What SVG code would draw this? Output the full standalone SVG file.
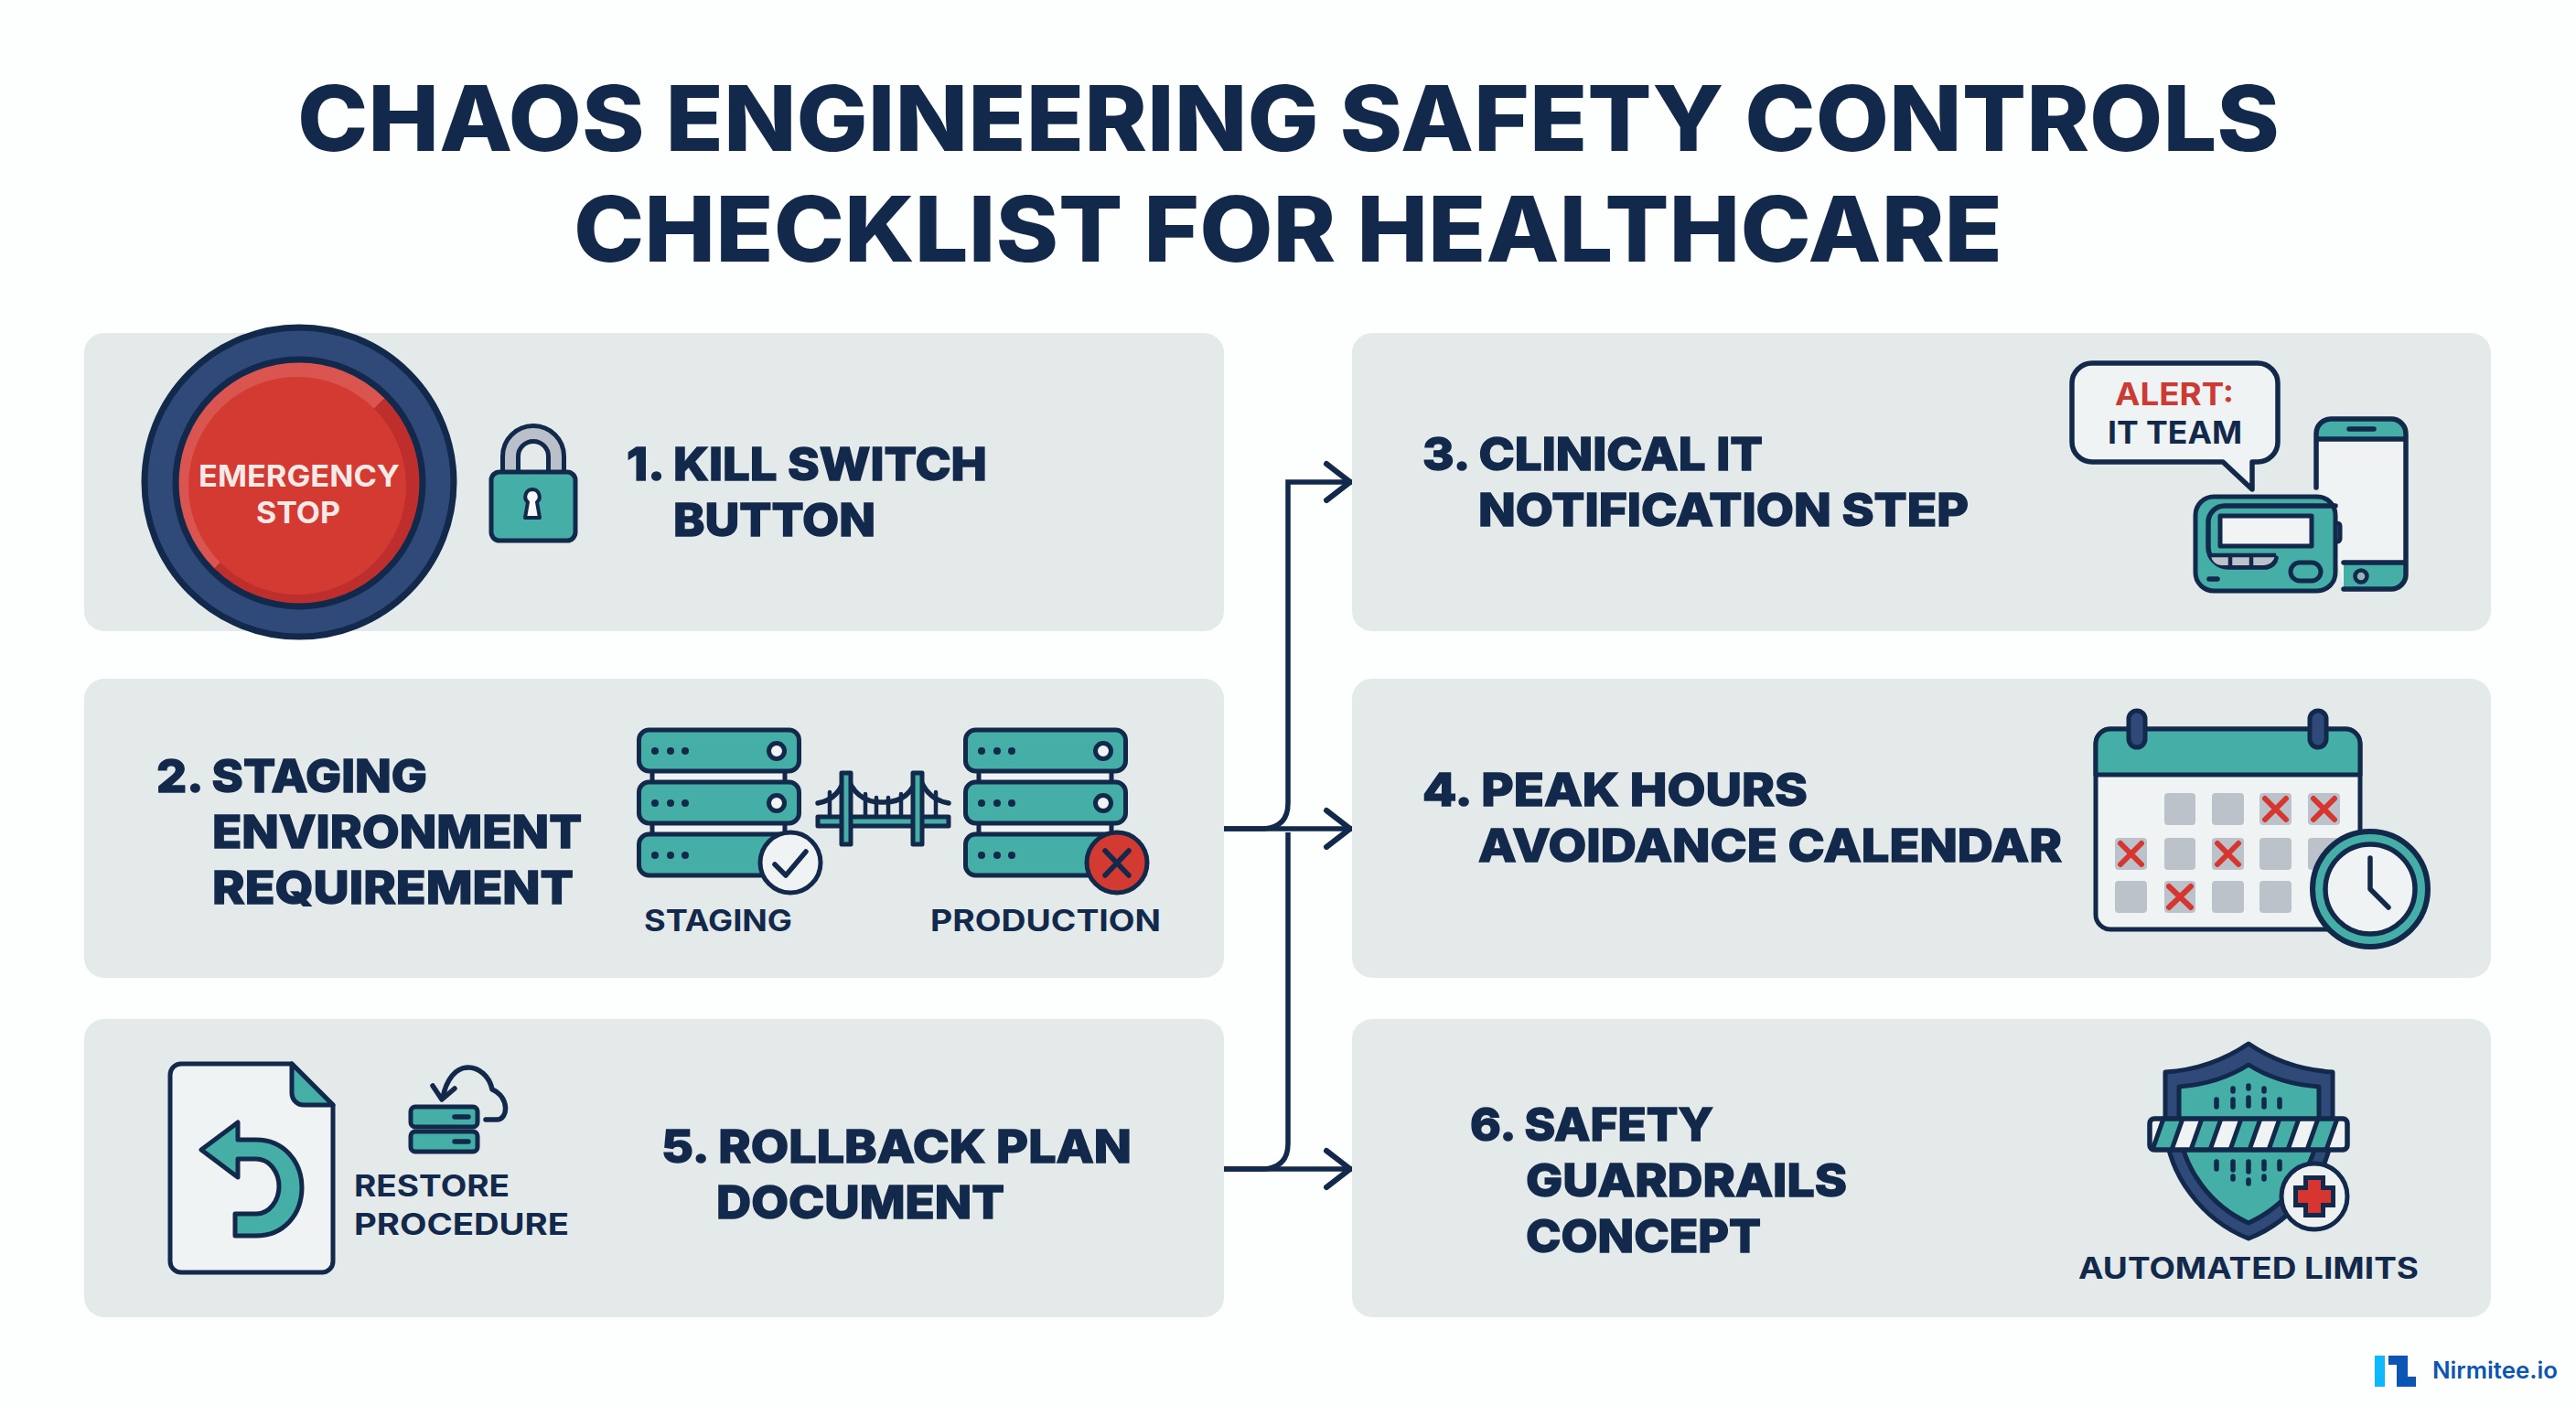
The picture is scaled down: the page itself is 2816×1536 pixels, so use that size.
<svg xmlns="http://www.w3.org/2000/svg" xmlns:xlink="http://www.w3.org/1999/xlink" width="2816" height="1536" viewBox="0 0 2816 1536">
<style>
text{font-family:"Inter","Liberation Sans",sans-serif;font-weight:700;fill:#12294b}
.t{font-size:99px;font-weight:800}
.h{font-size:50px;font-weight:800;stroke:#12294b;stroke-width:1.4}
.s{font-size:32px}
.w{font-size:32px;fill:#f8e9e7}
.m{font-size:34px}
.panel{fill:#e4e9ea}
.o{stroke:#12294b;stroke-width:5;stroke-linejoin:round;stroke-linecap:round}
.teal{fill:#45aea6}
.paper{fill:#f0f3f4}
.gray{fill:#bcc2ca}
.line{fill:none;stroke:#12294b;stroke-width:5.5;stroke-linecap:round;stroke-linejoin:round}
.conn{fill:none;stroke:#12294b;stroke-width:5.5}
.head{fill:none;stroke:#12294b;stroke-width:6;stroke-linecap:round;stroke-linejoin:miter}
.x{fill:none;stroke:#d6362f;stroke-width:6;stroke-linecap:round}
</style>
<defs>
<linearGradient id="rim" x1="0.15" y1="0.15" x2="0.85" y2="0.85"><stop offset="0.5" stop-color="#da5450"/><stop offset="0.5" stop-color="#bd2e2c"/></linearGradient>
<clipPath id="barclip"><rect x="2350" y="1223" width="216" height="34" rx="5"/></clipPath>
<g id="unit"><rect class="o teal" x="1.5" y="1" width="175" height="45" rx="11"/><circle cx="19" cy="24" r="4" fill="#12294b"/><circle cx="36" cy="24" r="4" fill="#12294b"/><circle cx="52" cy="24" r="4" fill="#12294b"/></g>
<g id="ring"><circle class="o paper" cx="152" cy="24" r="8.5"/></g>
<g id="stack">
<rect class="o paper" x="16" y="40" width="145" height="22"/>
<rect class="o paper" x="16" y="97" width="145" height="22"/>
<use href="#unit" y="0"/><use href="#ring" y="0"/>
<use href="#unit" y="57"/><use href="#ring" y="57"/>
<use href="#unit" y="114"/>
</g>
</defs>
<rect width="2816" height="1536" fill="#fdfefe"/>
<g id="title">
<text class="t" x="325" y="165" textLength="2167" lengthAdjust="spacingAndGlyphs">CHAOS ENGINEERING SAFETY CONTROLS</text>
<text class="t" x="627" y="286" textLength="1562" lengthAdjust="spacingAndGlyphs">CHECKLIST FOR HEALTHCARE</text>
</g>
<g id="connectors">
<path class="conn" d="M1338,906 H1478"/>
<path class="conn" d="M1338,1278 H1478"/>
<path class="conn" d="M1338,906 H1382 Q1408,904 1408,878 V527 H1478"/>
<path class="conn" d="M1338,1278 H1382 Q1408,1276 1408,1250 V910"/>
<path class="head" d="M1450,507 L1476,527 L1450,547"/>
<path class="head" d="M1450,886 L1476,906 L1450,926"/>
<path class="head" d="M1450,1258 L1476,1278 L1450,1298"/>
</g>
<g id="node1">
<rect class="panel" x="92" y="364" width="1246" height="326" rx="22"/>
<circle cx="327" cy="527" r="169" fill="#2f4a78" stroke="#12294b" stroke-width="7"/>
<circle cx="327" cy="528" r="135" fill="url(#rim)" stroke="#12294b" stroke-width="7"/>
<circle cx="325" cy="531" r="119" fill="#d33a32"/>
<text class="w" x="217" y="532" textLength="220" lengthAdjust="spacingAndGlyphs">EMERGENCY</text>
<text class="w" x="280" y="572" textLength="92" lengthAdjust="spacingAndGlyphs">STOP</text>
<path d="M558,518 V499 a25,25 0 0 1 50,0 V518" fill="none" stroke="#12294b" stroke-width="22"/>
<path d="M558,518 V499 a25,25 0 0 1 50,0 V518" fill="none" stroke="#b9c0c9" stroke-width="12"/>
<rect class="o teal" x="537" y="516" width="92" height="75" rx="9"/>
<path d="M582,535 a8,8 0 0 1 5,14 l3,17 h-16 l3,-17 a8,8 0 0 1 5,-14 z" fill="#f6f8f8" stroke="#12294b" stroke-width="4" stroke-linejoin="round"/>
<text class="h" x="685" y="525" textLength="394" lengthAdjust="spacingAndGlyphs">1. KILL SWITCH</text>
<text class="h" x="736" y="586" textLength="221" lengthAdjust="spacingAndGlyphs">BUTTON</text>
</g>
<g id="node2">
<rect class="panel" x="92" y="742" width="1246" height="327" rx="22"/>
<text class="h" x="171" y="866" textLength="296" lengthAdjust="spacingAndGlyphs">2. STAGING</text>
<text class="h" x="232" y="927" textLength="404" lengthAdjust="spacingAndGlyphs">ENVIRONMENT</text>
<text class="h" x="232" y="988" textLength="395" lengthAdjust="spacingAndGlyphs">REQUIREMENT</text>
<use href="#stack" x="697" y="797"/>
<circle class="o paper" cx="864" cy="943" r="33"/>
<path class="line" d="M847,945 L859,957 L881,931"/>
<use href="#stack" x="1054" y="797"/>
<circle class="o" fill="#d33a32" cx="1221" cy="943" r="33"/>
<path class="line" d="M1208,930 L1234,957 M1234,930 L1208,957"/>
<path class="line" style="stroke-width:4.5" d="M907,866 V892 M946,868 V892 M958,872 V892 M971,872 V892 M985,868 V892 M1023,866 V892"/>
<path class="line" d="M894,878 Q918,874 925,846 Q935,878 965,877 Q995,878 1004,846 Q1012,874 1037,878"/>
<rect class="o teal" x="894" y="893" width="143" height="10"/>
<rect class="o teal" x="920" y="845" width="10" height="78"/>
<rect class="o teal" x="998" y="845" width="10" height="78"/>
<text class="s" x="704" y="1018" textLength="162" lengthAdjust="spacingAndGlyphs">STAGING</text>
<text class="s" x="1017" y="1018" textLength="252" lengthAdjust="spacingAndGlyphs">PRODUCTION</text>
</g>
<g id="node3">
<rect class="panel" x="1478" y="364" width="1245" height="326" rx="22"/>
<text class="h" x="1555" y="514" textLength="372" lengthAdjust="spacingAndGlyphs">3. CLINICAL IT</text>
<text class="h" x="1616" y="575" textLength="536" lengthAdjust="spacingAndGlyphs">NOTIFICATION STEP</text>
<path class="o paper" style="stroke-width:5.5" d="M2287,397 H2468 a22,22 0 0 1 22,22 V483 a22,22 0 0 1 -22,22 H2462 V535 L2430,505 H2287 a22,22 0 0 1 -22,-22 V419 a22,22 0 0 1 22,-22 z"/>
<text class="m" x="2312" y="443" style="fill:#cc3a34" textLength="130" lengthAdjust="spacingAndGlyphs">ALERT:</text>
<text class="m" x="2304" y="485" textLength="147" lengthAdjust="spacingAndGlyphs">IT TEAM</text>
<path class="paper" d="M2535,480 H2628 V615 H2562 V640 L2535,533 z"/>
<path class="teal" d="M2533,480 V474 a16,16 0 0 1 16,-16 H2613 a16,16 0 0 1 16,16 V480 z"/>
<path class="teal" d="M2562,615 H2629 V628 a16,16 0 0 1 -16,16 H2562 z"/>
<path class="line" d="M2532,533 V474 a16,16 0 0 1 16,-16 H2614 a16,16 0 0 1 16,16 V628 a16,16 0 0 1 -16,16 H2562 M2533,480 H2630 M2562,615 H2630 M2568,469 H2595"/>
<circle cx="2581" cy="630" r="6.5" fill="#8fb6b6" stroke="#12294b" stroke-width="4.5"/>
<rect class="o teal" x="2552" y="572" width="6" height="20" rx="3"/>
<rect class="o teal" x="2400" y="543" width="153" height="103" rx="20"/>
<path class="line" d="M2553,553 H2432 a18,18 0 0 0 -18,18 V598 a22,22 0 0 0 22,22 H2478 a12,12 0 0 0 10,-10"/>
<path class="gray" d="M2417,608 H2487 a14,14 0 0 1 -12,10 H2428 a12,12 0 0 1 -11,-10 z"/>
<path d="M2438,606 V619 M2461,606 V619 M2417,607 H2488" stroke="#12294b" stroke-width="4.5" fill="none"/>
<rect class="o" x="2427" y="564" width="100" height="33" fill="#f1f3f4"/>
<rect class="o" x="2504" y="615" width="33" height="20" rx="10" fill="#45aea6"/>
<path class="line" d="M2415,633 H2424"/>
</g>
<g id="node4">
<rect class="panel" x="1478" y="742" width="1245" height="327" rx="22"/>
<text class="h" x="1555" y="881" textLength="421" lengthAdjust="spacingAndGlyphs">4. PEAK HOURS</text>
<text class="h" x="1616" y="942" textLength="638" lengthAdjust="spacingAndGlyphs">AVOIDANCE CALENDAR</text>
<rect class="o paper" x="2291" y="797" width="289" height="219" rx="16"/>
<path class="o teal" d="M2291,847 V813 a16,16 0 0 1 16,-16 H2564 a16,16 0 0 1 16,16 V847 z"/>
<rect class="o" fill="#2f4a78" x="2327" y="777" width="18" height="40" rx="9"/>
<rect class="o" fill="#2f4a78" x="2525" y="777" width="18" height="40" rx="9"/>
<g class="gray">
<rect x="2366" y="867" width="34" height="35" rx="4"/><rect x="2418" y="867" width="35" height="35" rx="4"/><rect x="2470" y="867" width="35" height="35" rx="4"/><rect x="2523" y="867" width="35" height="35" rx="4"/>
<rect x="2312" y="916" width="35" height="35" rx="4"/><rect x="2366" y="916" width="34" height="35" rx="4"/><rect x="2418" y="916" width="35" height="35" rx="4"/><rect x="2470" y="916" width="35" height="35" rx="4"/><rect x="2523" y="916" width="35" height="35" rx="4"/>
<rect x="2312" y="963" width="35" height="35" rx="4"/><rect x="2366" y="963" width="34" height="35" rx="4"/><rect x="2418" y="963" width="35" height="35" rx="4"/><rect x="2470" y="963" width="35" height="35" rx="4"/>
</g>
<path class="x" d="M2476,873 L2499,896 M2499,873 L2476,896 M2529,873 L2552,896 M2552,873 L2529,896 M2318,922 L2341,945 M2341,922 L2318,945 M2424,922 L2447,945 M2447,922 L2424,945 M2371,969 L2395,992 M2395,969 L2371,992"/>
<circle cx="2591" cy="972" r="63" fill="#45aea6" stroke="#12294b" stroke-width="6"/>
<circle cx="2591" cy="972" r="49" fill="#f0f3f4" stroke="#12294b" stroke-width="5.5"/>
<path class="line" d="M2591,938 V972 L2611,992"/>
</g>
<g id="node5">
<rect class="panel" x="92" y="1114" width="1246" height="326" rx="22"/>
<path class="o paper" d="M198,1163 H319 L364,1208 V1379 a12,12 0 0 1 -12,12 H198 a12,12 0 0 1 -12,-12 V1175 a12,12 0 0 1 12,-12 z"/>
<path class="o teal" d="M319,1163 V1195 a13,13 0 0 0 13,13 H364 z"/>
<path class="o teal" d="M220,1257 L260,1227 V1246 H280 C310,1246 330,1270 330,1298 C330,1328 310,1351 280,1351 H257 V1327 H280 C295,1327 305,1312 305,1297 C305,1282 295,1267 280,1267 H260 V1287 z"/>
<rect class="o teal" x="449" y="1210" width="73" height="22" rx="5"/>
<rect class="o teal" x="449" y="1237" width="73" height="22" rx="5"/>
<path class="line" d="M497,1221 H512 M497,1248 H512"/>
<path class="line" d="M531,1224 H543 C556,1224 557,1199 538,1191 C535,1176 523,1167 512,1167 C498,1167 488,1180 484,1200 M473,1187 L483,1202 L497,1190"/>
<text class="s" x="387" y="1308" textLength="170" lengthAdjust="spacingAndGlyphs">RESTORE</text>
<text class="s" x="387" y="1350" textLength="235" lengthAdjust="spacingAndGlyphs">PROCEDURE</text>
<text class="h" x="723" y="1271" textLength="514" lengthAdjust="spacingAndGlyphs">5. ROLLBACK PLAN</text>
<text class="h" x="783" y="1332" textLength="315" lengthAdjust="spacingAndGlyphs">DOCUMENT</text>
</g>
<g id="node6">
<rect class="panel" x="1478" y="1114" width="1245" height="326" rx="22"/>
<text class="h" x="1607" y="1247" textLength="266" lengthAdjust="spacingAndGlyphs">6. SAFETY</text>
<text class="h" x="1668" y="1308" textLength="351" lengthAdjust="spacingAndGlyphs">GUARDRAILS</text>
<text class="h" x="1668" y="1369" textLength="257" lengthAdjust="spacingAndGlyphs">CONCEPT</text>
<path class="o" fill="#2f4a78" d="M2458,1141 C2430,1160 2400,1170 2367,1172 V1225 C2367,1285 2410,1335 2458,1354 C2506,1335 2550,1285 2550,1225 V1172 C2516,1170 2486,1160 2458,1141 z"/>
<path class="o teal" d="M2458,1164 C2436,1178 2410,1186 2382,1188 V1230 C2385,1280 2420,1320 2458,1337 C2496,1320 2532,1280 2535,1230 V1188 C2506,1186 2480,1178 2458,1164 z"/>
<path d="M2423,1202 V1210 M2441,1202 V1210 M2441,1190 V1193 M2458,1200 V1209 M2458,1187 V1190 M2475,1202 V1210 M2475,1190 V1193 M2492,1202 V1210 M2423,1270 V1278 M2441,1270 V1279 M2441,1286 V1289 M2458,1270 V1281 M2458,1290 V1294 M2475,1270 V1278 M2475,1286 V1289 M2492,1270 V1278" stroke="#12294b" stroke-width="5.5" stroke-linecap="round" fill="none"/>
<rect x="2350" y="1223" width="216" height="34" rx="5" fill="#f0f3f4"/>
<g clip-path="url(#barclip)">
<path class="teal" d="M2353,1257 L2365,1223 H2386 L2374,1257 z M2395,1257 L2407,1223 H2428 L2416,1257 z M2438,1257 L2450,1223 H2471 L2459,1257 z M2480,1257 L2492,1223 H2513 L2501,1257 z M2522,1257 L2534,1223 H2555 L2543,1257 z"/>
<path d="M2353,1257 L2365,1223 M2374,1257 L2386,1223 M2395,1257 L2407,1223 M2416,1257 L2428,1223 M2438,1257 L2450,1223 M2459,1257 L2471,1223 M2480,1257 L2492,1223 M2501,1257 L2513,1223 M2522,1257 L2534,1223 M2543,1257 L2555,1223" stroke="#12294b" stroke-width="5" fill="none"/>
</g>
<rect x="2350" y="1223" width="216" height="34" rx="5" fill="none" stroke="#12294b" stroke-width="5.5"/>
<circle class="o" fill="#eef1f2" cx="2530" cy="1308" r="36"/>
<path d="M2530,1285 V1331 M2507,1308 H2553" stroke="#12294b" stroke-width="24" fill="none"/>
<path d="M2530,1290 V1326 M2512,1308 H2548" stroke="#d6362f" stroke-width="14" fill="none"/>
<text class="s" x="2272" y="1398" textLength="372" lengthAdjust="spacingAndGlyphs">AUTOMATED LIMITS</text>
</g>
<g id="logo">
<rect x="2596" y="1482" width="11" height="34" fill="#0fb8fb"/>
<path d="M2611,1482 H2632 V1505 H2641 V1516 H2620 V1492 H2611 z" fill="#0b55b4"/>
<text x="2659" y="1507" style="fill:#0b55b4;font-size:25px;font-weight:600" textLength="137" lengthAdjust="spacingAndGlyphs">Nirmitee.io</text>
</g>
</svg>
